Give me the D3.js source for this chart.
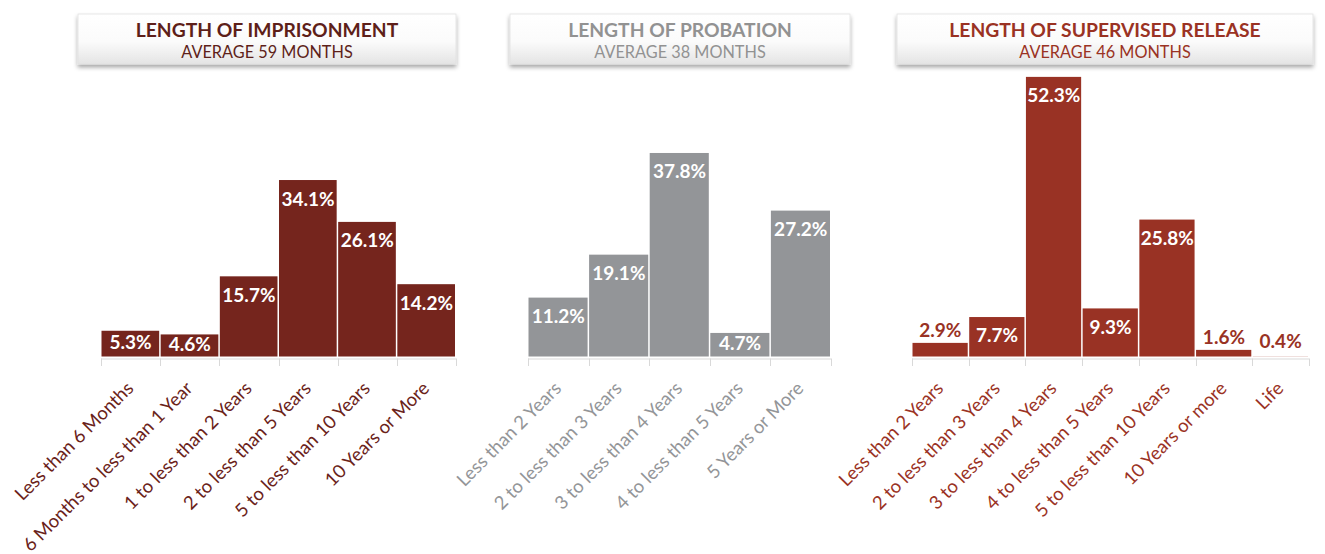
<!DOCTYPE html>
<html>
<head>
<meta charset="utf-8">
<script src="https://cdn.jsdelivr.net/npm/d3@7"></script>
<style>
  html, body { margin: 0; padding: 0; background: #ffffff; }
  svg { display: block; font-family: Lato, "Open Sans", sans-serif; }
</style>
</head>
<body>
<svg id="chart" width="1325" height="554"></svg>
<script>
// ---------------- DATA ----------------
const impTitle = "LENGTH OF IMPRISONMENT";
const impSubtitle = "AVERAGE 59 MONTHS";
const impCategories = ["Less than 6 Months", "6 Months to less than 1 Year", "1 to less than 2 Years",
  "2 to less than 5 Years", "5 to less than 10 Years", "10 Years or More"];
const impValues = [5.3, 4.6, 15.7, 34.1, 26.1, 14.2];

const probTitle = "LENGTH OF PROBATION";
const probSubtitle = "AVERAGE 38 MONTHS";
const probCategories = ["Less than 2 Years", "2 to less than 3 Years", "3 to less than 4 Years",
  "4 to less than 5 Years", "5 Years or More"];
const probValues = [11.2, 19.1, 37.8, 4.7, 27.2];

const supTitle = "LENGTH OF SUPERVISED RELEASE";
const supSubtitle = "AVERAGE 46 MONTHS";
const supCategories = ["Less than 2 Years", "2 to less than 3 Years", "3 to less than 4 Years",
  "4 to less than 5 Years", "5 to less than 10 Years", "10 Years or more", "Life"];
const supValues = [2.9, 7.7, 52.3, 9.3, 25.8, 1.6, 0.4];

// ---------------- LAYOUT / STYLE ----------------
const panels = [
  { title: impTitle, subtitle: impSubtitle, cats: impCategories, vals: impValues,
    x0: 101, x1: 456, yMax: 53.5, box: [78, 456],
    bar: "#75251d", titleColor: "#5e1f19", labelColor: "#6a2219" },
  { title: probTitle, subtitle: probSubtitle, cats: probCategories, vals: probValues,
    x0: 528, x1: 831, yMax: 51.5, box: [510, 850],
    bar: "#939598", titleColor: "#929292", labelColor: "#939598" },
  { title: supTitle, subtitle: supSubtitle, cats: supCategories, vals: supValues,
    x0: 912, x1: 1309, yMax: 52.0, box: [897, 1313],
    bar: "#993224", titleColor: "#9a3223", labelColor: "#9a3224" }
];
const baseY = 358.5;
const plotH = 280;
const boxTop = 14, boxH = 50;
const gapBottom = 2;

const svg = d3.select("#chart");
const defs = svg.append("defs");
const grad = defs.append("linearGradient").attr("id", "boxGrad")
  .attr("x1", 0).attr("y1", 0).attr("x2", 0).attr("y2", 1);
grad.append("stop").attr("offset", "0%").attr("stop-color", "#ffffff");
grad.append("stop").attr("offset", "55%").attr("stop-color", "#fbfbfb");
grad.append("stop").attr("offset", "100%").attr("stop-color", "#e4e4e4");
const filt = defs.append("filter").attr("id", "shadow")
  .attr("x", "-5%").attr("y", "-20%").attr("width", "110%").attr("height", "160%");
filt.append("feDropShadow").attr("dx", 0).attr("dy", 3).attr("stdDeviation", 2)
  .attr("flood-color", "#000").attr("flood-opacity", 0.35);

panels.forEach(p => {
  const g = svg.append("g");

  // Title box
  g.append("rect")
    .attr("x", p.box[0]).attr("y", boxTop)
    .attr("width", p.box[1] - p.box[0]).attr("height", boxH)
    .attr("fill", "url(#boxGrad)")
    .attr("stroke", "#e2e2e2").attr("stroke-width", 0.8)
    .attr("filter", "url(#shadow)");
  const cx = (p.box[0] + p.box[1]) / 2;
  g.append("text").attr("x", cx).attr("y", 36.5)
    .attr("text-anchor", "middle").attr("font-size", 19.3).attr("font-weight", 700)
    .attr("fill", p.titleColor).text(p.title);
  g.append("text").attr("x", cx).attr("y", 57.5)
    .attr("text-anchor", "middle").attr("font-size", 16.3).attr("font-weight", 400)
    .attr("fill", p.titleColor).text(p.subtitle);

  const x = d3.scaleBand().domain(p.cats).range([p.x0, p.x1]).padding(0);
  const y = d3.scaleLinear().domain([0, p.yMax]).range([baseY, baseY - plotH]);
  const data = p.cats.map((c, i) => ({ c, v: p.vals[i] }));
  const barH = v => Math.max(0, y(0) - y(v) - gapBottom);

  // Bars
  g.selectAll("rect.bar").data(data).join("rect")
    .attr("class", "bar")
    .attr("x", d => x(d.c) + 0.5)
    .attr("width", x.bandwidth() - 1.5)
    .attr("y", d => y(d.v))
    .attr("height", d => barH(d.v))
    .attr("fill", p.bar);

  // Axis line + ticks at band boundaries
  const axisG = g.append("g");
  axisG.append("line")
    .attr("x1", p.x0).attr("x2", p.x1)
    .attr("y1", baseY + 0.5).attr("y2", baseY + 0.5)
    .attr("stroke", "#d9d9d9").attr("stroke-width", 1);
  const bounds = p.cats.map(c => x(c)).concat([p.x1]);
  axisG.selectAll("line.tick").data(bounds).join("line")
    .attr("class", "tick")
    .attr("x1", d => Math.round(d) + 0.5).attr("x2", d => Math.round(d) + 0.5)
    .attr("y1", baseY).attr("y2", baseY + 7.5)
    .attr("stroke", "#d9d9d9").attr("stroke-width", 1);

  // Category labels (rotated)
  g.selectAll("text.cat").data(data).join("text")
    .attr("class", "cat")
    .attr("transform", d => `translate(${x(d.c) + x.bandwidth() / 2 + 4},${baseY + 31}) rotate(-45)`)
    .attr("text-anchor", "end")
    .attr("font-size", 18.5)
    .attr("fill", p.labelColor)
    .text(d => d.c);

  // Value labels
  g.selectAll("text.val").data(data).join("text")
    .attr("class", "val")
    .attr("x", d => x(d.c) + x.bandwidth() / 2)
    .attr("y", d => {
      const top = y(d.v), h = barH(d.v);
      if (h >= 18) return Math.min(top + 25.5, top + h / 2 + 5.5);
      return Math.min(baseY - 10.5, top - 6);
    })
    .attr("text-anchor", "middle")
    .attr("font-size", 19).attr("font-weight", 700)
    .attr("fill", d => barH(d.v) >= 18 ? "#ffffff" : p.bar)
    .text(d => d.v.toFixed(1) + "%");
});
</script>
</body>
</html>
